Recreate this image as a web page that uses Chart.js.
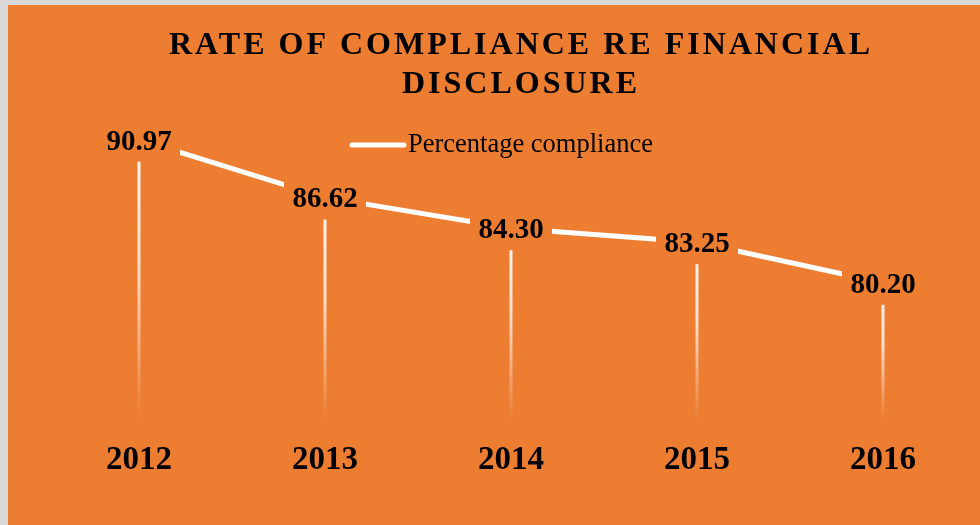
<!DOCTYPE html>
<html>
<head>
<meta charset="utf-8">
<script src="https://cdn.jsdelivr.net/npm/chart.js@4/dist/chart.umd.min.js"></script>
<style>
  html, body { margin: 0; padding: 0; background: #d9d9d9; }
  #wrap { position: absolute; left: 8px; top: 5px; width: 972px; height: 520px; background: #ed7d31; }
  canvas { display: block; }
</style>
</head>
<body>
<div id="wrap"><canvas id="chart" width="972" height="520"></canvas></div>
<script>
const years = ['2012', '2013', '2014', '2015', '2016']
const compliance = [90.97, 86.62, 84.30, 83.25, 80.20]
const seriesName = 'Percentage compliance'
const titleLines = ['RATE OF COMPLIANCE RE FINANCIAL', 'DISCLOSURE']

const orange = '#ed7d31'
const serif = "'Liberation Serif', 'Times New Roman', serif"

// drop lines from each point down to the axis, fading out
const dropLines = {
    id: 'dropLines',
    beforeDatasetsDraw: (chart) => {
        const ctx = chart.ctx
        const bottom = chart.chartArea.bottom + 2
        chart.getDatasetMeta(0).data.forEach(pt => {
            const g = ctx.createLinearGradient(0, pt.y, 0, bottom)
            g.addColorStop(0, 'rgba(255,255,255,0.95)')
            g.addColorStop(0.45, 'rgba(255,255,255,0.75)')
            g.addColorStop(1, 'rgba(255,255,255,0)')
            ctx.save()
            ctx.strokeStyle = g
            ctx.lineWidth = 3
            ctx.beginPath()
            ctx.moveTo(pt.x, pt.y)
            ctx.lineTo(pt.x, bottom)
            ctx.stroke()
            ctx.restore()
        })
    }
}

// value labels centred on the points, on an orange box
const valueLabels = {
    id: 'valueLabels',
    afterDatasetsDraw: (chart) => {
        const ctx = chart.ctx
        const values = chart.data.datasets[0].data
        chart.getDatasetMeta(0).data.forEach((pt, i) => {
            ctx.save()
            ctx.fillStyle = orange
            ctx.fillRect(pt.x - 41, pt.y - 22, 82, 44)
            ctx.fillStyle = '#000'
            ctx.font = 'bold 29px ' + serif
            ctx.textAlign = 'center'
            ctx.textBaseline = 'alphabetic'
            ctx.fillText(values[i].toFixed(2), pt.x, pt.y + 10)
            ctx.restore()
        })
    }
}

// spaced title and the legend sitting inside the plot
const headerAndLegend = {
    id: 'headerAndLegend',
    afterDraw: (chart) => {
        const ctx = chart.ctx
        ctx.save()
        ctx.fillStyle = '#000'
        ctx.font = 'bold 32px ' + serif
        ctx.letterSpacing = '3px'
        ctx.textAlign = 'left'
        ctx.textBaseline = 'alphabetic'
        const cx = 511.5
        titleLines.forEach((line, i) => {
            const w = ctx.measureText(line).width - 3
            ctx.fillText(line, cx - w / 2, 49 + i * 39)
        })
        ctx.letterSpacing = '0px'

        ctx.strokeStyle = '#fff'
        ctx.lineWidth = 5
        ctx.lineCap = 'round'
        ctx.beginPath()
        ctx.moveTo(344, 140)
        ctx.lineTo(396, 140)
        ctx.stroke()
        ctx.font = '26.5px ' + serif
        ctx.fillText(chart.data.datasets[0].label, 400, 147)
        ctx.restore()
    }
}

const chart = new Chart(document.getElementById('chart'), {
    type: 'line',
    data: {
        labels: years,
        datasets: [{
            label: seriesName,
            data: compliance,
            borderColor: '#fff',
            borderWidth: 5,
            pointRadius: 0,
            tension: 0,
            fill: false
        }]
    },
    options: {
        responsive: false,
        animation: false,
        layout: {
            padding: { left: 38, right: 4, top: 81, bottom: 23 }
        },
        plugins: {
            legend: { display: false },
            title: { display: false },
            tooltip: { enabled: false }
        },
        scales: {
            x: {
                offset: true,
                grid: { display: false, drawTicks: false },
                border: { display: false },
                ticks: {
                    color: '#000',
                    padding: 22,
                    font: { family: serif, size: 33, weight: 'bold' }
                }
            },
            y: {
                display: false,
                min: 70,
                max: 95
            }
        }
    },
    plugins: [dropLines, valueLabels, headerAndLegend]
})
</script>
</body>
</html>
